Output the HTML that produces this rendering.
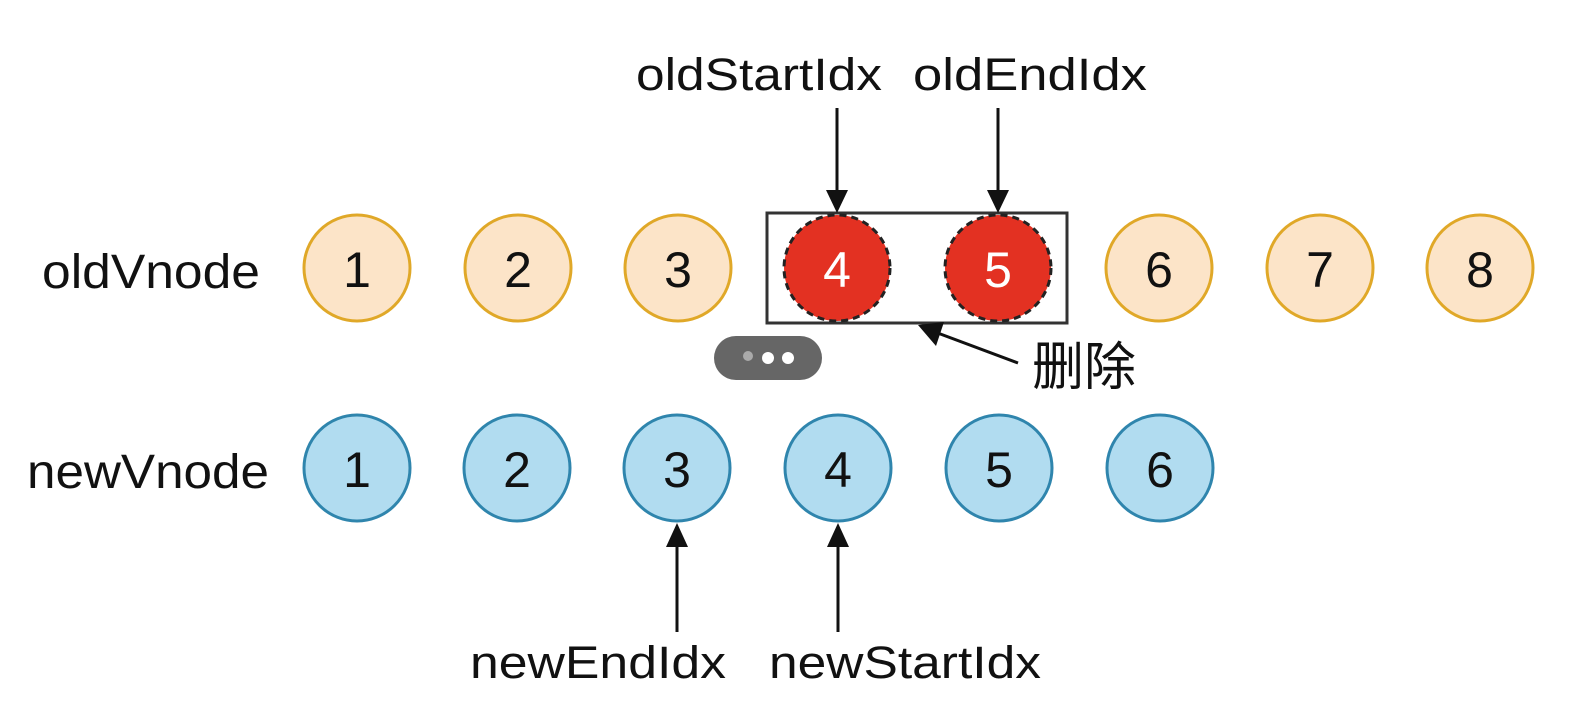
<!DOCTYPE html>
<html><head><meta charset="utf-8"><style>
html,body{margin:0;padding:0;background:#fff;}
svg{display:block;}
text{font-family:"Liberation Sans","Noto Sans CJK SC",sans-serif;}
</style></head><body>
<svg width="1580" height="708" viewBox="0 0 1580 708" xmlns="http://www.w3.org/2000/svg">
<rect width="1580" height="708" fill="#fff"/>
<text x="42" y="288" font-size="48" fill="#111" textLength="218" lengthAdjust="spacingAndGlyphs">oldVnode</text>
<text x="27" y="488" font-size="48" fill="#111" textLength="242" lengthAdjust="spacingAndGlyphs">newVnode</text>
<rect x="767" y="213" width="300" height="110" fill="#fff" stroke="#333" stroke-width="3"/>
<g stroke="#e0a828" stroke-width="3" fill="#fce4c8">
<circle cx="357" cy="268" r="53"/><circle cx="518" cy="268" r="53"/><circle cx="678" cy="268" r="53"/>
<circle cx="1159" cy="268" r="53"/><circle cx="1320" cy="268" r="53"/><circle cx="1480" cy="268" r="53"/>
</g>
<g fill="#e33122" stroke="#222" stroke-width="3" stroke-dasharray="7,5">
<circle cx="837" cy="268" r="53"/><circle cx="998" cy="268" r="53"/>
</g>
<g stroke="#2f85ad" stroke-width="3" fill="#b1dcf0">
<circle cx="357" cy="468" r="53"/><circle cx="517" cy="468" r="53"/><circle cx="677" cy="468" r="53"/>
<circle cx="838" cy="468" r="53"/><circle cx="999" cy="468" r="53"/><circle cx="1160" cy="468" r="53"/>
</g>
<g font-size="50" text-anchor="middle" fill="#111">
<text x="357" y="287">1</text><text x="518" y="287">2</text><text x="678" y="287">3</text>
<text x="837" y="287" fill="#fff">4</text><text x="998" y="287" fill="#fff">5</text>
<text x="1159" y="287">6</text><text x="1320" y="287">7</text><text x="1480" y="287">8</text>
<text x="357" y="487">1</text><text x="517" y="487">2</text><text x="677" y="487">3</text>
<text x="838" y="487">4</text><text x="999" y="487">5</text><text x="1160" y="487">6</text>
</g>
<g font-size="45" fill="#111">
<text x="636" y="90" textLength="246" lengthAdjust="spacingAndGlyphs">oldStartIdx</text>
<text x="913" y="90" textLength="234" lengthAdjust="spacingAndGlyphs">oldEndIdx</text>
<text x="470" y="678" textLength="256" lengthAdjust="spacingAndGlyphs">newEndIdx</text>
<text x="769" y="678" textLength="272" lengthAdjust="spacingAndGlyphs">newStartIdx</text>
<text x="1032" y="385" font-size="52">删除</text>
</g>
<g stroke="#111" stroke-width="3">
<line x1="837" y1="108" x2="837" y2="195"/>
<line x1="998" y1="108" x2="998" y2="195"/>
<line x1="677" y1="632" x2="677" y2="540"/>
<line x1="838" y1="632" x2="838" y2="540"/>
<line x1="1018" y1="363" x2="935" y2="332"/>
</g>
<g fill="#111">
<polygon points="826,190 848,190 837,213"/>
<polygon points="987,190 1009,190 998,213"/>
<polygon points="666,547 688,547 677,523"/>
<polygon points="827,547 849,547 838,523"/>
<polygon points="918,325 944,322 936,346"/>
</g>
<rect x="714" y="336" width="108" height="44" rx="22" fill="#666"/>
<circle cx="748" cy="356" r="5" fill="#aaa"/>
<circle cx="768" cy="358" r="6" fill="#fff"/>
<circle cx="788" cy="358" r="6" fill="#fff"/>
</svg>
</body></html>
